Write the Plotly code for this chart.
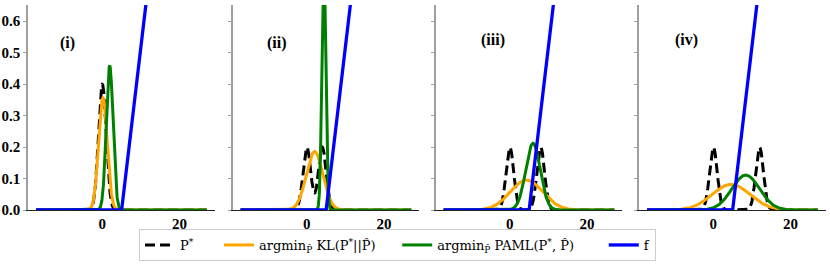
import numpy as np
import plotly.graph_objects as go

# ---- data ----
PANEL_LABELS = ["(i)", "(ii)", "(iii)", "(iv)"]
# P*: equal mixture of two unit-variance Gaussians
PSTAR_MODE_A = [0.0, 0.0, 0.0, 0.0]
PSTAR_MODE_B = [0.0, 4.0, 8.0, 12.0]
PSTAR_SD = [1.0, 1.0, 1.0, 1.0]
# argmin KL fit (single Gaussian)
KL_MEAN = [0.15, 2.0, 4.3, 4.6]
KL_SD = [1.12, 2.15, 4.2, 4.9]
# argmin PAML fit (single Gaussian)
PAML_MEAN = [1.9, 4.4, 6.0, 8.4]
PAML_SD = [0.87, 0.5, 1.88, 3.6]
# f: hinge function knots
F_X = [-17.2, 5.0, 27.1]
F_Y = [0.0, 0.0, 2.29]
X_MIN, X_MAX = -17.2, 27.1
LABEL_X = [-9.1, -7.8, -4.5, -7.0]
LABEL_Y = [0.53, 0.53, 0.54, 0.54]
Y_TICKS = [0.0, 0.1, 0.2, 0.3, 0.4, 0.5, 0.6]
X_TICKS = [0, 20]

NAMES = ["P<sup>*</sup>" + "&nbsp;" * 5,
         "argmin<sub>P̂</sub> KL(P<sup>*</sup>||P̂)" + "&nbsp;" * 4,
         "argmin<sub>P̂</sub> PAML(P<sup>*</sup>, P̂)" + "&nbsp;" * 6,
         "f"]

W, H = 830, 265
xs = np.linspace(X_MIN, X_MAX, 800)


def npdf(x, m, s):
    return np.exp(-0.5 * ((x - m) / s) ** 2) / (s * np.sqrt(2 * np.pi))


fig = go.Figure()
left_px = [28, 232.5, 435.5, 639]
pw = 186.5
y_dom = [(H - 210) / H, (H - 5) / H]
serif = "Liberation Serif"

for i in range(4):
    xa = "x" if i == 0 else f"x{i+1}"
    ya = "y" if i == 0 else f"y{i+1}"
    pstar = 0.5 * npdf(xs, PSTAR_MODE_A[i], PSTAR_SD[i]) + 0.5 * npdf(xs, PSTAR_MODE_B[i], PSTAR_SD[i])
    kl = npdf(xs, KL_MEAN[i], KL_SD[i])
    paml = npdf(xs, PAML_MEAN[i], PAML_SD[i])
    show = i == 0
    fig.add_trace(go.Scatter(x=xs, y=pstar, mode="lines", xaxis=xa, yaxis=ya,
                             line=dict(color="black", width=3, dash="10px,5px"),
                             name=NAMES[0], showlegend=show))
    fig.add_trace(go.Scatter(x=xs, y=kl, mode="lines", xaxis=xa, yaxis=ya,
                             line=dict(color="#FFA500", width=3),
                             name=NAMES[1], showlegend=show))
    fig.add_trace(go.Scatter(x=xs, y=paml, mode="lines", xaxis=xa, yaxis=ya,
                             line=dict(color="#008000", width=3),
                             name=NAMES[2], showlegend=show))
    fig.add_trace(go.Scatter(x=F_X, y=F_Y, mode="lines", xaxis=xa, yaxis=ya,
                             line=dict(color="#0000FF", width=3.3),
                             name=NAMES[3], showlegend=show))
    xkey = "xaxis" if i == 0 else f"xaxis{i+1}"
    ykey = "yaxis" if i == 0 else f"yaxis{i+1}"
    x0 = left_px[i] / W
    x1 = (left_px[i] + pw) / W
    fig.layout[xkey] = dict(domain=[x0, x1], range=[-19.3, 29.1], anchor=ya,
                            automargin=False,
                            showgrid=False, zeroline=False, showline=True,
                            linecolor="#222222", linewidth=1.2,
                            tickvals=X_TICKS, ticktext=[f"<b>{v}</b>" for v in X_TICKS],
                            ticks="", ticklen=0, ticklabelstandoff=0,
                            tickfont=dict(family=serif, size=15, color="black"))
    fig.layout[ykey] = dict(domain=y_dom, range=[0, 0.651], anchor=xa,
                            automargin=False,
                            showgrid=False, zeroline=False, showline=True,
                            linecolor="#a0a0a0", linewidth=1.5,
                            tickvals=Y_TICKS, ticktext=[f"<b>{v:.1f}</b>" for v in Y_TICKS],
                            ticks="outside", ticklen=3, tickcolor="#a0a0a0", tickwidth=1,
                            showticklabels=(i == 0),
                            tickfont=dict(family=serif, size=15, color="black"))
    fig.add_annotation(x=LABEL_X[i], y=LABEL_Y[i], xref=xa, yref=ya, text=f"<b>{PANEL_LABELS[i]}</b>",
                       showarrow=False, font=dict(family=serif, size=16, color="black"))

fig.update_layout(
    width=W, height=H,
    margin=dict(l=0, r=0, t=0, b=0, autoexpand=False),
    paper_bgcolor="white", plot_bgcolor="white",
    legend=dict(orientation="h", x=139 / W, y=(H - 229) / H, xanchor="left", yanchor="top",
                bordercolor="#cccccc", borderwidth=1, bgcolor="white",
                font=dict(family="DejaVu Serif", size=13, color="black"),
                itemwidth=30, tracegroupgap=0),
)

fig.write_html("out.html", config={"displayModeBar": False},
               post_script="document.body.style.margin='0px';")
